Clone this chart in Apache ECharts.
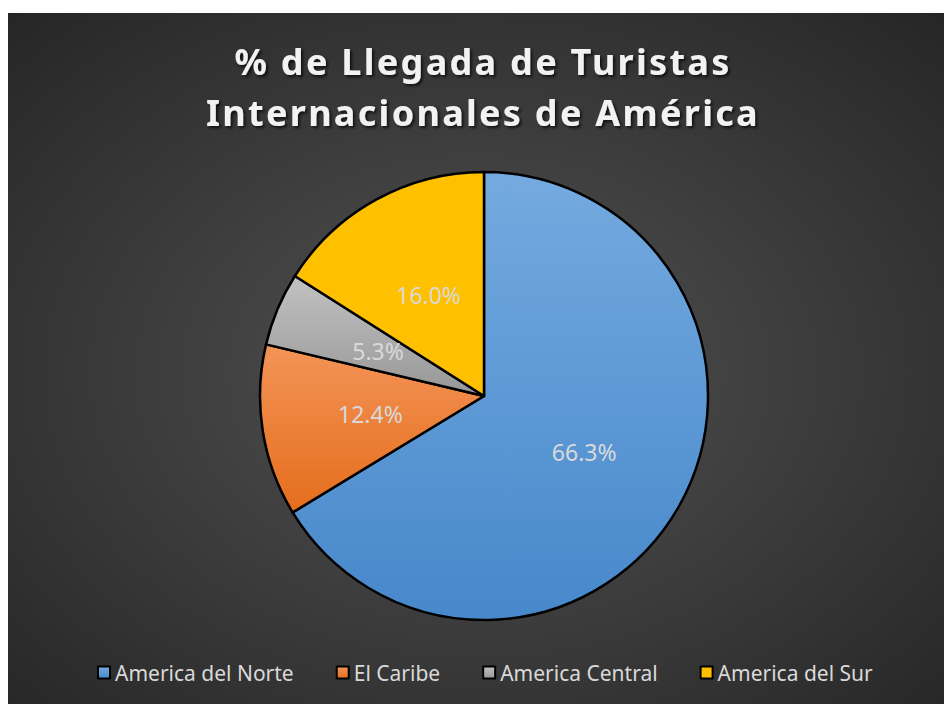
<!DOCTYPE html>
<html>
<head>
<meta charset="utf-8">
<title>Llegada de Turistas</title>
<script src="https://cdn.jsdelivr.net/npm/echarts@6/dist/echarts.min.js"></script>
<style>
  html, body { margin: 0; padding: 0; background: #fff; }
  #main { position: absolute; left: 8px; top: 13px; width: 936px; height: 691px; }
  /* titulo con espaciado entre letras */
  #main text[style*="bold"] { letter-spacing: 2.3px; translate: 7px 0; }
</style>
</head>
<body>
<div id="main"></div>
<script>
  // datos
  var regiones = ['America del Norte', 'El Caribe', 'America Central', 'America del Sur'];
  var porcentajes = [66.3, 12.4, 5.3, 16.0];
  var colores = [
    ['#74aadf', '#4788cb'],
    ['#f39457', '#e56d1c'],
    ['#c2c2c2', '#979797'],
    ['#ffc000', '#ffc000']
  ];

  var myChart = echarts.init(document.getElementById('main'), null, { renderer: 'svg' });

  var datos = regiones.map(function (n, i) {
    return {
      name: n,
      value: porcentajes[i],
      itemStyle: {
        color: new echarts.graphic.LinearGradient(0, 0, 0, 1, [
          { offset: 0, color: colores[i][0] },
          { offset: 1, color: colores[i][1] }
        ])
      }
    };
  });

  var option = {
    backgroundColor: new echarts.graphic.RadialGradient(0.5, 0.52, 0.75, [
      { offset: 0, color: '#525252' },
      { offset: 1, color: '#242424' }
    ]),
    color: ['#5b9bd5', '#ed7d31', '#a5a5a5', '#ffc000'],
    title: {
      text: '% de Llegada de Turistas\nInternacionales de América',
      left: 'center',
      top: 18,
      textStyle: {
        color: '#f2f2f2',
        fontFamily: 'Noto Sans',
        fontWeight: 'bold',
        fontSize: 36,
        lineHeight: 51,
        textShadowColor: 'rgba(0,0,0,0.7)',
        textShadowBlur: 3,
        textShadowOffsetX: 2,
        textShadowOffsetY: 2
      }
    },
    legend: {
      data: regiones,
      left: 84,
      top: 644,
      icon: 'rect',
      itemWidth: 12,
      itemHeight: 12,
      itemGap: 42,
      itemStyle: { borderColor: '#000', borderWidth: 2 },
      textStyle: { color: '#d9d9d9', fontFamily: 'Noto Sans', fontSize: 21 }
    },
    series: [{
      name: 'Llegadas',
      type: 'pie',
      center: [476, 383],
      radius: [0, 224],
      startAngle: 90,
      clockwise: true,
      animation: false,
      silent: true,
      itemStyle: { borderColor: '#000', borderWidth: 2.5 },
      label: {
        show: true,
        position: 'inside',
        color: '#d9d9d9',
        fontFamily: 'Noto Sans',
        fontSize: 23,
        formatter: function (p) { return p.value.toFixed(1) + '%'; }
      },
      labelLine: { show: false },
      data: datos
    }]
  };

  myChart.setOption(option);
</script>
</body>
</html>
